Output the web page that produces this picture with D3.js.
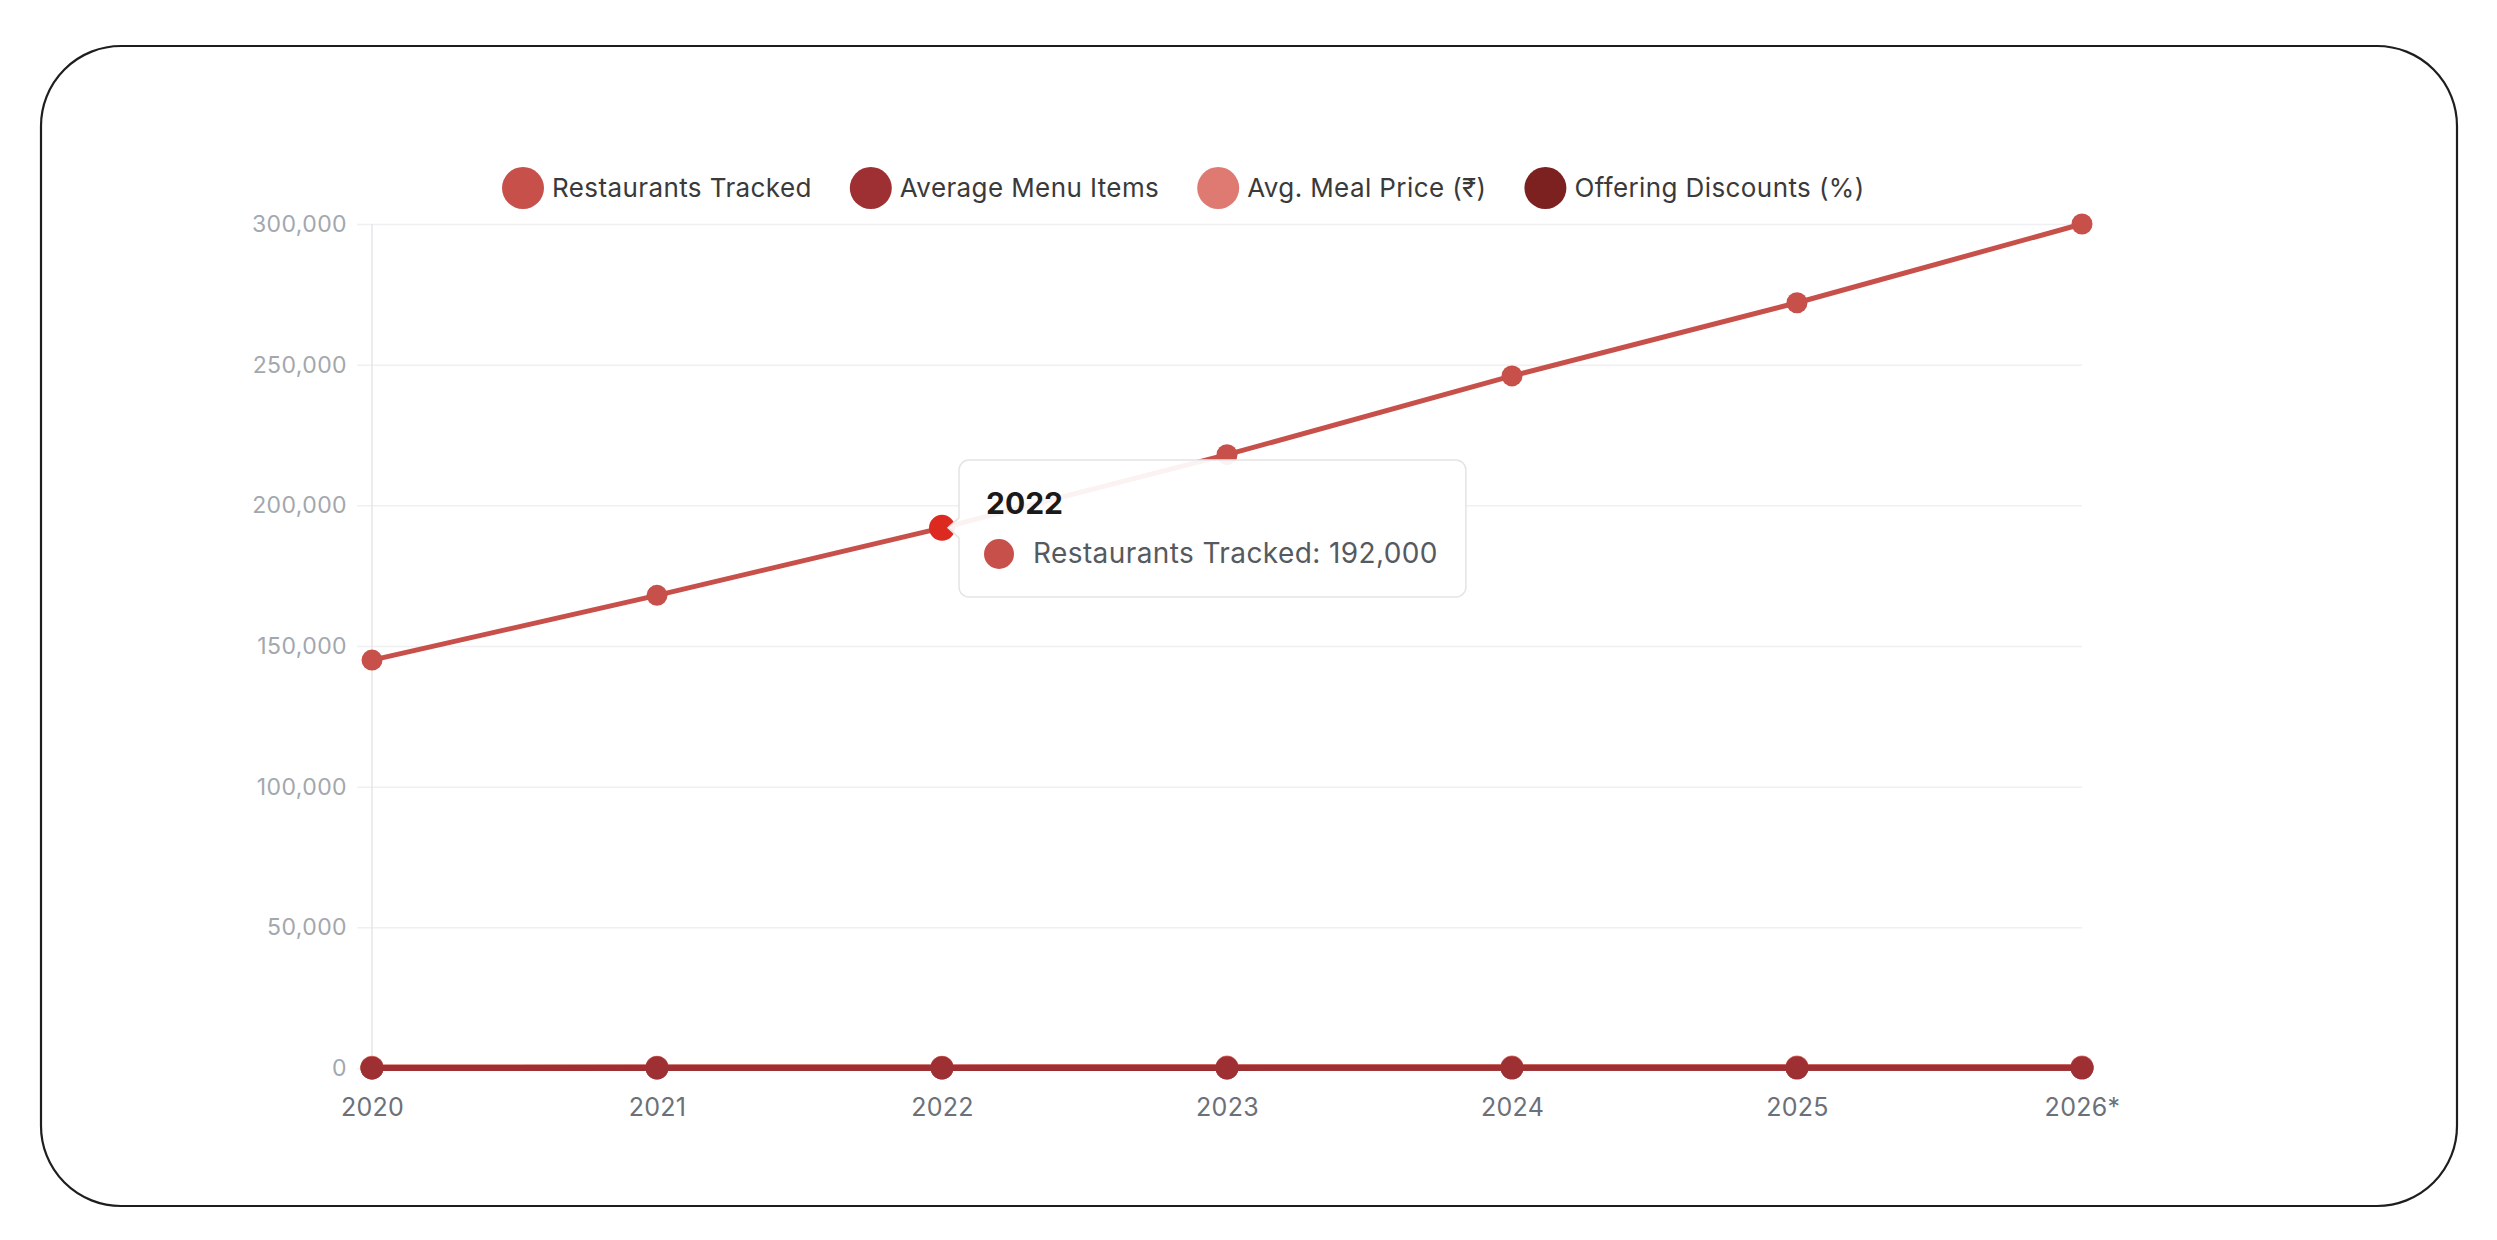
<!DOCTYPE html>
<html>
<head>
<meta charset="utf-8">
<script src="https://cdn.jsdelivr.net/npm/d3@7"></script>
<style>
  body { margin: 0; background: #fff; }
  svg { display: block; font-family: Inter, "Noto Sans", sans-serif; }
</style>
</head>
<body>
<div id="main"></div>
<script>
// values
var years = ['2020', '2021', '2022', '2023', '2024', '2025', '2026*'];
var restaurantsTracked = [145000, 168000, 192000, 218000, 246000, 272000, 300000];
var avgMenuItems = [42, 45, 48, 51, 54, 57, 60];
var avgMealPrice = [280, 295, 310, 330, 350, 365, 380];
var offeringDiscounts = [35, 38, 41, 44, 47, 50, 53];
var yTicks = [0, 50000, 100000, 150000, 200000, 250000, 300000];

var seriesNames = ['Restaurants Tracked', 'Average Menu Items', 'Avg. Meal Price (₹)', 'Offering Discounts (%)'];
var seriesColors = ['#c8504a', '#9e3034', '#df7a72', '#7c2020'];
var seriesValues = [restaurantsTracked, avgMenuItems, avgMealPrice, offeringDiscounts];

var hoverIndex = 2;
var fontFamily = 'Inter, "Noto Sans", sans-serif';

var W = 2497, H = 1240;
var margins = { top: 224, bottom: 172, left: 372, right: 415 };

var svg = d3.select('#main').append('svg')
    .attr('width', W).attr('height', H);

// card frame
svg.append('rect')
    .attr('x', 41).attr('y', 46)
    .attr('width', 2416).attr('height', 1160)
    .attr('rx', 80).attr('ry', 80)
    .style('fill', '#fff')
    .style('stroke', '#1e1e1e')
    .style('stroke-width', 2.2);

var x = d3.scalePoint()
    .domain(years)
    .range([margins.left, W - margins.right]);
var y = d3.scaleLinear()
    .domain([0, 300000])
    .range([H - margins.bottom, margins.top]);

// grid lines (with a short tick to the left of the axis)
var yAxis = d3.axisLeft(y)
    .tickValues(yTicks)
    .tickSize(-(x.range()[1] - x.range()[0]) - 15)
    .tickPadding(10)
    .tickFormat(d3.format(','));

var gy = svg.append('g')
    .attr('transform', 'translate(' + (margins.left - 15) + ',0)')
    .call(yAxis)
    .attr('font-family', fontFamily);
gy.select('.domain').remove();
gy.selectAll('.tick line')
    .style('stroke', '#f0f0f2')
    .style('stroke-width', 1.5);
gy.selectAll('.tick text')
    .style('font-size', '23px')
    .style('letter-spacing', '0.4px')
    .style('fill', '#a3a7ae')
    .attr('x', -10);

// left axis line
svg.append('line')
    .attr('x1', margins.left).attr('x2', margins.left)
    .attr('y1', y(300000)).attr('y2', y(0) + 8)
    .style('stroke', '#e6e6ea')
    .style('stroke-width', 1.5);

var xAxis = d3.axisBottom(x).tickSize(0).tickPadding(30);
var gx = svg.append('g')
    .attr('transform', 'translate(0,' + y(0) + ')')
    .call(xAxis)
    .attr('font-family', fontFamily);
gx.select('.domain').remove();
gx.selectAll('.tick text')
    .style('font-size', '25px')
    .style('letter-spacing', '0.3px')
    .style('fill', '#6b7079');

var line = d3.line()
    .x(function(d, i) { return x(years[i]); })
    .y(function(d) { return y(d); });

// first series ends up on top
for (var s = seriesValues.length - 1; s >= 0; s--) {
    var g = svg.append('g').attr('class', 'series');
    g.append('path')
        .datum(seriesValues[s])
        .attr('d', line)
        .style('fill', 'none')
        .style('stroke', seriesColors[s])
        .style('stroke-width', s === 0 ? 5 : 6)
        .style('stroke-linejoin', 'round');
    g.selectAll('circle').data(seriesValues[s])
        .enter().append('circle')
        .attr('cx', function(d, i) { return x(years[i]); })
        .attr('cy', function(d) { return y(d); })
        .attr('r', s === 0 ? 10.5 : 11.5)
        .style('fill', seriesColors[s]);
}

// hovered point
svg.append('circle')
    .attr('cx', x(years[hoverIndex]))
    .attr('cy', y(restaurantsTracked[hoverIndex]))
    .attr('r', 13)
    .style('fill', '#dc2a20');

// legend
var legend = svg.append('g').attr('class', 'legend');
var lx = 502, ly = 188;
seriesNames.forEach(function(name, i) {
    legend.append('circle')
        .attr('cx', lx + 21).attr('cy', ly)
        .attr('r', 21)
        .style('fill', seriesColors[i]);
    var t = legend.append('text')
        .attr('x', lx + 50).attr('y', ly)
        .attr('dy', '0.35em')
        .style('font-size', '26px')
        .style('letter-spacing', '0.4px')
        .style('fill', '#3a3a3a')
        .text(name);
    lx = lx + 50 + t.node().getComputedTextLength() + 38;
});

// tooltip
var tipLeft = 959, tipTop = 460, tipH = 137;
var px = x(years[hoverIndex]), py = y(restaurantsTracked[hoverIndex]);
var tip = svg.append('g').attr('class', 'tooltip');
var tipBg = tip.append('path');
var title = tip.append('text')
    .attr('x', tipLeft + 27).attr('y', tipTop + 54)
    .style('font-size', '30px')
    .style('font-weight', '700')
    .style('fill', '#1a1a1a')
    .text(years[hoverIndex]);
tip.append('circle')
    .attr('cx', tipLeft + 40).attr('cy', tipTop + 94)
    .attr('r', 15)
    .style('fill', seriesColors[0]);
var body = tip.append('text')
    .attr('x', tipLeft + 74).attr('y', tipTop + 103)
    .style('font-size', '28px')
    .style('letter-spacing', '0.4px')
    .style('fill', '#555a60')
    .text(seriesNames[0] + ': ' + d3.format(',')(restaurantsTracked[hoverIndex]));
var tipW = 74 + body.node().getComputedTextLength() + 28;
var r = 10, cw = 10;
tipBg.attr('d', 'M ' + (tipLeft + r) + ' ' + tipTop
        + ' L ' + (tipLeft + tipW - r) + ' ' + tipTop
        + ' A ' + r + ' ' + r + ' 0 0 1 ' + (tipLeft + tipW) + ' ' + (tipTop + r)
        + ' L ' + (tipLeft + tipW) + ' ' + (tipTop + tipH - r)
        + ' A ' + r + ' ' + r + ' 0 0 1 ' + (tipLeft + tipW - r) + ' ' + (tipTop + tipH)
        + ' L ' + (tipLeft + r) + ' ' + (tipTop + tipH)
        + ' A ' + r + ' ' + r + ' 0 0 1 ' + tipLeft + ' ' + (tipTop + tipH - r)
        + ' L ' + tipLeft + ' ' + (py + cw)
        + ' L ' + (tipLeft - 11) + ' ' + py
        + ' L ' + tipLeft + ' ' + (py - cw)
        + ' L ' + tipLeft + ' ' + (tipTop + r)
        + ' A ' + r + ' ' + r + ' 0 0 1 ' + (tipLeft + r) + ' ' + tipTop + ' Z')
    .style('fill', 'rgba(255,255,255,0.93)')
    .style('stroke', '#e4e4e6')
    .style('stroke-width', 1.5);
</script>
</body>
</html>
